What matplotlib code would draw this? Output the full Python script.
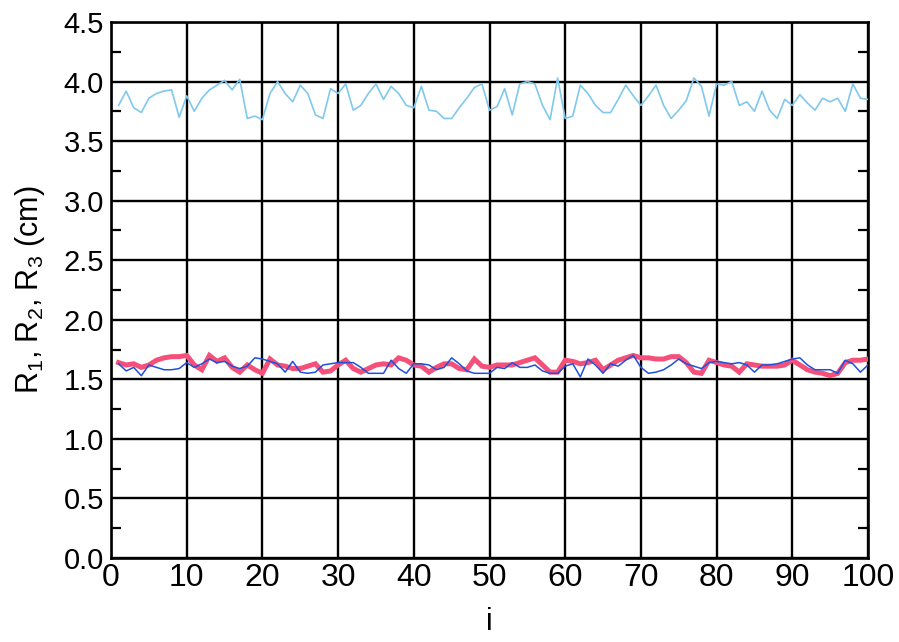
import matplotlib
matplotlib.use("Agg")
import matplotlib.pyplot as plt
import numpy as np
from matplotlib.ticker import MultipleLocator

i_vals = np.arange(1, 101)

# thin dark blue series
r1 = [1.63, 1.57, 1.60, 1.53, 1.62, 1.60, 1.58, 1.58, 1.59, 1.64,
      1.60, 1.63, 1.67, 1.64, 1.65, 1.61, 1.59, 1.61, 1.68, 1.67,
      1.65, 1.63, 1.56, 1.65, 1.56, 1.55, 1.56, 1.62, 1.63, 1.64,
      1.64, 1.64, 1.60, 1.55, 1.55, 1.55, 1.66, 1.59, 1.55, 1.63,
      1.63, 1.62, 1.58, 1.60, 1.68, 1.63, 1.57, 1.55, 1.55, 1.55,
      1.60, 1.59, 1.64, 1.60, 1.60, 1.62, 1.57, 1.55, 1.55, 1.61,
      1.63, 1.52, 1.67, 1.62, 1.55, 1.63, 1.61, 1.66, 1.70, 1.60,
      1.55, 1.56, 1.58, 1.62, 1.67, 1.63, 1.61, 1.59, 1.64, 1.65,
      1.64, 1.63, 1.64, 1.62, 1.56, 1.62, 1.62, 1.63, 1.65, 1.67,
      1.68, 1.62, 1.58, 1.58, 1.58, 1.55, 1.66, 1.63, 1.56, 1.62]

# thick pink series
r2 = [1.64, 1.62, 1.63, 1.60, 1.62, 1.66, 1.68, 1.69, 1.69, 1.70,
      1.62, 1.58, 1.70, 1.65, 1.68, 1.60, 1.56, 1.62, 1.58, 1.55,
      1.67, 1.62, 1.61, 1.59, 1.59, 1.61, 1.63, 1.56, 1.57, 1.62,
      1.66, 1.59, 1.56, 1.59, 1.62, 1.63, 1.62, 1.68, 1.66, 1.62,
      1.61, 1.56, 1.60, 1.63, 1.63, 1.59, 1.58, 1.67, 1.61, 1.60,
      1.62, 1.62, 1.62, 1.64, 1.66, 1.68, 1.62, 1.56, 1.56, 1.66,
      1.65, 1.63, 1.64, 1.66, 1.58, 1.62, 1.66, 1.68, 1.70, 1.68,
      1.68, 1.67, 1.67, 1.69, 1.69, 1.64, 1.56, 1.55, 1.66, 1.64,
      1.62, 1.61, 1.56, 1.63, 1.62, 1.61, 1.61, 1.61, 1.62, 1.66,
      1.62, 1.58, 1.56, 1.55, 1.53, 1.55, 1.64, 1.66, 1.66, 1.67]

# light blue series on top
r3 = [3.80, 3.92, 3.78, 3.74, 3.86, 3.90, 3.92, 3.93, 3.70, 3.88,
      3.75, 3.86, 3.93, 3.97, 4.01, 3.93, 4.02, 3.69, 3.71, 3.68,
      3.90, 4.00, 3.90, 3.83, 3.97, 3.90, 3.72, 3.69, 3.94, 3.90,
      3.98, 3.76, 3.80, 3.90, 3.98, 3.85, 3.96, 3.90, 3.80, 3.78,
      3.96, 3.76, 3.75, 3.69, 3.69, 3.78, 3.86, 3.95, 3.98, 3.76,
      3.79, 3.94, 3.72, 3.98, 4.00, 3.98, 3.80, 3.68, 4.03, 3.69,
      3.71, 3.97, 3.90, 3.80, 3.74, 3.74, 3.85, 3.97, 3.88, 3.80,
      3.88, 3.97, 3.80, 3.69, 3.76, 3.84, 4.03, 3.96, 3.71, 3.98,
      3.97, 4.00, 3.80, 3.83, 3.75, 3.92, 3.76, 3.69, 3.85, 3.80,
      3.89, 3.82, 3.76, 3.86, 3.83, 3.86, 3.75, 3.98, 3.86, 3.85]

x_ticks = np.arange(0, 101, 10)
y_ticks = np.arange(0, 4.51, 0.5)

plt.rcParams['font.family'] = ['Liberation Sans', 'DejaVu Sans']
plt.rcParams['mathtext.default'] = 'regular'

fig = plt.figure(figsize=(8.99, 6.42), dpi=100)
ax = fig.add_axes([0.1235, 0.131, 0.842, 0.8347])

ax.plot(i_vals, r2, color='#f4507a', lw=3.6, solid_joinstyle='miter', zorder=3)
ax.plot(i_vals, r1, color='#1e50dc', lw=1.1, zorder=4)
ax.plot(i_vals, r3, color='#80c8ec', lw=1.2, zorder=4)

ax.set_xlim(0, 100)
ax.set_ylim(0, 4.5)
ax.set_xticks(x_ticks)
ax.set_yticks(y_ticks)
ax.set_yticklabels([f'{v:.1f}' for v in y_ticks], fontsize=21)
ax.set_xticklabels([str(v) for v in x_ticks], fontsize=23,
                   family=['Liberation Sans Narrow', 'Liberation Sans'])
ax.yaxis.set_minor_locator(MultipleLocator(0.25))
ax.tick_params(which='both', direction='in', right=True, top=True, width=1.6)
ax.tick_params(axis='y', which='major', length=0, pad=5)
ax.tick_params(axis='x', which='major', length=0, pad=4)
ax.tick_params(which='minor', length=7)
ax.tick_params(axis='x', which='minor', length=0)

ax.grid(True, color='black', lw=1.7)
ax.set_axisbelow(True)
for sp in ax.spines.values():
    sp.set_linewidth(1.9)

ax.set_xlabel('i', fontsize=22, labelpad=10)
ax.set_ylabel('R$_1$, R$_2$, R$_3$ (cm)', fontsize=22, labelpad=12)

fig.savefig('out.png', dpi=100)
